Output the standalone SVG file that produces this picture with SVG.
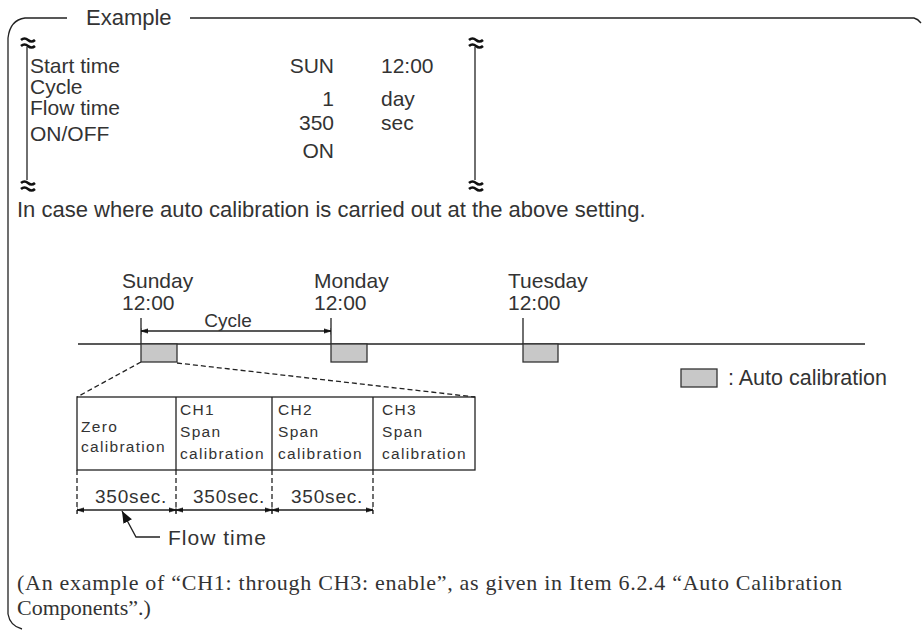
<svg xmlns="http://www.w3.org/2000/svg" width="922" height="630" viewBox="0 0 922 630">
<style>
.t{font-family:"Liberation Sans",Arial,sans-serif;font-size:21px;fill:#333}
.s{font-family:"Liberation Serif","Times New Roman",serif;font-size:22px;fill:#333}
.c{font-family:"Liberation Sans",Arial,sans-serif;font-size:15.5px;letter-spacing:1.3px;fill:#333}
.d{font-family:"Liberation Sans",Arial,sans-serif;font-size:19px;letter-spacing:0.8px;fill:#333}
.ln{stroke:#222;stroke-width:1.3;fill:none}
.dash{stroke:#222;stroke-width:1.3;fill:none;stroke-dasharray:5 3}
.brk{stroke:#111;stroke-width:2.6;fill:none}
.cal{fill:#c8c8c8;stroke:#333;stroke-width:1.3}
</style>
<defs>
<marker id="ah" viewBox="0 0 10 10" refX="10" refY="5" markerWidth="7" markerHeight="7" orient="auto-start-reverse" markerUnits="userSpaceOnUse">
<path d="M0,2 L10,5 L0,8 Z M10,0 L10,10" fill="#111" stroke="#111" stroke-width="1"/>
</marker>
<marker id="ah2" viewBox="0 0 10 10" refX="10" refY="5" markerWidth="12" markerHeight="12" orient="auto" markerUnits="userSpaceOnUse">
<path d="M0,1 L10,5 L0,9 Z" fill="#111"/>
</marker>
</defs>

<g id="frame">
<path class="ln" d="M67 18 L25 18 Q10 20 8 38 L8 614 Q10 626 22 629"/>
<path class="ln" d="M190 18 L914 18 Q918 19 921 23"/>
<text class="t" x="86" y="25" style="font-size:22px">Example</text>
</g>

<g id="settings">
<path class="brk" d="M21 40 q3.5 -3 7 0 t7 0 M21 46 q3.5 -3 7 0 t7 0"/>
<path class="ln" d="M27 47 L27 180"/>
<path class="brk" d="M21 183 q3.5 -3 7 0 t7 0 M21 189 q3.5 -3 7 0 t7 0"/>
<path class="brk" d="M469 40 q3.5 -3 7 0 t7 0 M469 46 q3.5 -3 7 0 t7 0"/>
<path class="ln" d="M475 47 L475 180"/>
<path class="brk" d="M469 183 q3.5 -3 7 0 t7 0 M469 189 q3.5 -3 7 0 t7 0"/>
<text class="t" x="30" y="73">Start time</text>
<text class="t" x="30" y="94">Cycle</text>
<text class="t" x="30" y="115">Flow time</text>
<text class="t" x="30" y="141">ON/OFF</text>
<text class="t" x="334" y="73" text-anchor="end">SUN</text>
<text class="t" x="334" y="106" text-anchor="end">1</text>
<text class="t" x="334" y="130" text-anchor="end">350</text>
<text class="t" x="334" y="158" text-anchor="end">ON</text>
<text class="t" x="381" y="73">12:00</text>
<text class="t" x="381" y="106">day</text>
<text class="t" x="381" y="130">sec</text>
</g>

<text class="t" x="17" y="217" style="font-size:22px">In case where auto calibration is carried out at the above setting.</text>

<g id="timeline">
<path class="ln" d="M78 344 L865 344"/>
<text class="t" x="122" y="288">Sunday</text>
<text class="t" x="122" y="310">12:00</text>
<text class="t" x="314" y="288">Monday</text>
<text class="t" x="314" y="310">12:00</text>
<text class="t" x="508" y="288">Tuesday</text>
<text class="t" x="508" y="310">12:00</text>
</g>

<g id="cal-sun"><path class="ln" d="M141 318 L141 344"/><rect class="cal" x="141" y="344" width="36" height="18"/></g>
<g id="cal-mon"><path class="ln" d="M331 318 L331 344"/><rect class="cal" x="331" y="344" width="36" height="18"/></g>
<g id="cal-tue"><path class="ln" d="M523 318 L523 344"/><rect class="cal" x="523" y="344" width="35" height="18"/></g>

<g id="legend">
<rect class="cal" x="681" y="369" width="36" height="18"/>
<text class="t" x="728" y="385" style="font-size:21.5px">: Auto calibration</text>
</g>

<g id="table">
<rect class="ln" x="77" y="397" width="398" height="73"/>
<path class="ln" d="M176 397 L176 470 M272 397 L272 470 M373 397 L373 470"/>
<text class="c" x="81" y="432">Zero</text>
<text class="c" x="81" y="452">calibration</text>
<text class="c" x="180" y="415">CH1</text>
<text class="c" x="180" y="437">Span</text>
<text class="c" x="180" y="459">calibration</text>
<text class="c" x="278" y="415">CH2</text>
<text class="c" x="278" y="437">Span</text>
<text class="c" x="278" y="459">calibration</text>
<text class="c" x="382" y="415">CH3</text>
<text class="c" x="382" y="437">Span</text>
<text class="c" x="382" y="459">calibration</text>
<text class="d" x="95" y="503">350sec.</text>
<text class="d" x="193" y="503">350sec.</text>
<text class="d" x="291" y="503">350sec.</text>
<text class="t" x="168" y="545" style="letter-spacing:1px">Flow time</text>
</g>

<g id="connectors">
<path class="ln" d="M141 331 L331 331" marker-start="url(#ah)" marker-end="url(#ah)"/>
<text class="t" x="228" y="327" text-anchor="middle" style="font-size:19px">Cycle</text>
<path class="dash" d="M141 362 L77 397"/>
<path class="dash" d="M177 363 L475 397"/>
<path class="dash" d="M77 470 L77 514 M176 470 L176 514 M272 470 L272 514 M373 470 L373 514"/>
<path class="ln" d="M77 510 L176 510" marker-start="url(#ah)" marker-end="url(#ah)"/>
<path class="ln" d="M176 510 L272 510" marker-start="url(#ah)" marker-end="url(#ah)"/>
<path class="ln" d="M272 510 L373 510" marker-start="url(#ah)" marker-end="url(#ah)"/>
<path class="ln" d="M160 537 L136 537 L122 511" marker-end="url(#ah2)"/>
</g>

<text class="s" x="17" y="590" textLength="825" lengthAdjust="spacing">(An example of “CH1: through CH3: enable”, as given in Item 6.2.4 “Auto Calibration</text>
<text class="s" x="17" y="615">Components”.)</text>
</svg>
